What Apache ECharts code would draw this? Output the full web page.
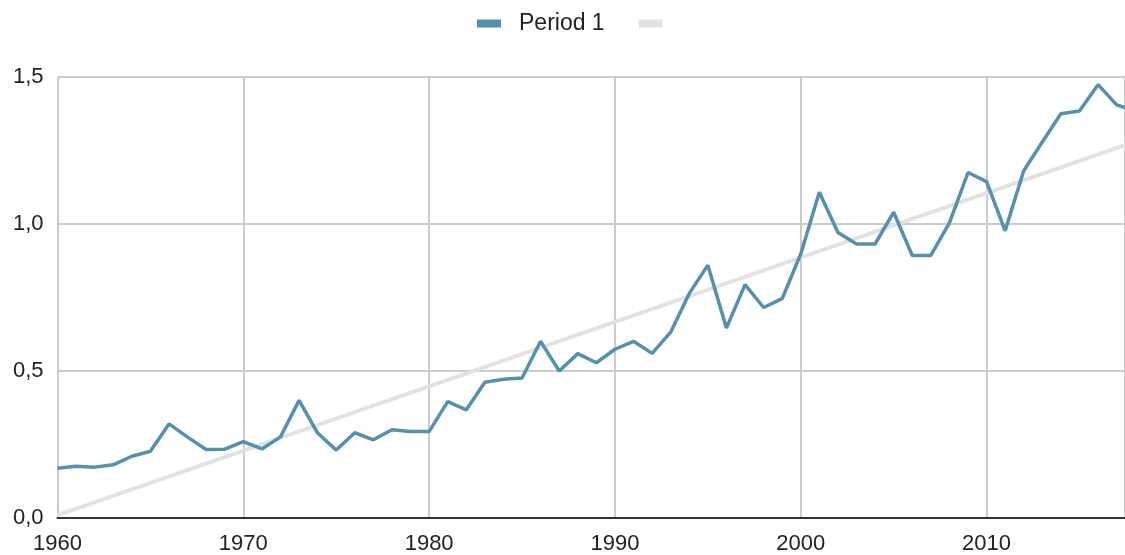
<!DOCTYPE html>
<html>
<head>
<meta charset="utf-8">
<style>
html,body{margin:0;padding:0;background:#fff;}
#chart{width:1125px;height:555px;}
</style>
<script src="https://cdn.jsdelivr.net/npm/echarts@6/dist/echarts.min.js"></script>
</head>
<body>
<div id="chart"></div>
<script>
const years = [1960,1961,1962,1963,1964,1965,1966,1967,1968,1969,
  1970,1971,1972,1973,1974,1975,1976,1977,1978,1979,
  1980,1981,1982,1983,1984,1985,1986,1987,1988,1989,
  1990,1991,1992,1993,1994,1995,1996,1997,1998,1999,
  2000,2001,2002,2003,2004,2005,2006,2007,2008,2009,
  2010,2011,2012,2013,2014,2015,2016,2017,2018];
const period1 = [0.169,0.176,0.173,0.181,0.210,0.227,0.320,0.275,0.233,0.234,
  0.260,0.235,0.276,0.400,0.289,0.231,0.290,0.266,0.300,0.294,
  0.294,0.396,0.368,0.462,0.472,0.476,0.601,0.500,0.559,0.528,
  0.574,0.601,0.560,0.632,0.764,0.860,0.646,0.794,0.716,0.746,
  0.898,1.108,0.971,0.932,0.932,1.040,0.893,0.893,1.004,1.175,
  1.144,0.977,1.181,1.279,1.375,1.384,1.474,1.405,1.385];
const trendYears = [1960, 2018];
const trendValues = [0.01, 1.28];
const yTicks = [0, 0.5, 1.0, 1.5];

const font = 'Liberation Sans, Arial, sans-serif';
const chart = echarts.init(document.getElementById('chart'), null, {renderer:'canvas'});
chart.setOption({
  animation: false,
  backgroundColor: '#ffffff',
  legend: {
    top: 7,
    left: 472,
    data: ['Period 1', ' '],
    icon: 'rect',
    itemWidth: 24,
    itemHeight: 8,
    itemGap: 34,
    textStyle: { fontFamily: font, fontSize: 23, color: '#222', padding: [0, 0, 0, 13] }
  },
  grid: { left: 57.5, right: 0, top: 77, bottom: 36, containLabel: false },
  xAxis: {
    type: 'value',
    min: 1960,
    max: 2017.45,
    interval: 10,
    axisLine: { show: true, onZero: false, lineStyle: { color: '#333', width: 2 } },
    axisTick: { show: false },
    axisLabel: {
      show: true, margin: 15, fontFamily: font, fontSize: 22, color: '#222',
      showMaxLabel: false,
      formatter: v => (v % 10 === 0 ? String(v) : '')
    },
    splitLine: { show: true, lineStyle: { color: '#cccccc', width: 2 } }
  },
  yAxis: {
    type: 'value',
    min: yTicks[0],
    max: yTicks[yTicks.length - 1],
    interval: 0.5,
    axisLine: { show: false },
    axisTick: { show: false },
    axisLabel: {
      margin: 14, fontFamily: font, fontSize: 22, color: '#222',
      formatter: v => v.toFixed(1).replace('.', ',')
    },
    splitLine: { show: true, lineStyle: { color: '#cccccc', width: 2 } }
  },
  series: [
    {
      name: ' ',
      type: 'line',
      data: trendYears.map((y, i) => [y, trendValues[i]]),
      showSymbol: false,
      symbol: 'none',
      clip: true,
      lineStyle: { color: '#e2e2e2', width: 4 },
      itemStyle: { color: '#e2e2e2' },
      z: 2
    },
    {
      name: 'Period 1',
      type: 'line',
      data: years.map((y, i) => [y, period1[i]]),
      showSymbol: false,
      symbol: 'none',
      clip: true,
      lineStyle: { color: '#5591ac', width: 3.5 },
      itemStyle: { color: '#5591ac' },
      z: 3
    }
  ]
});
</script>
</body>
</html>
